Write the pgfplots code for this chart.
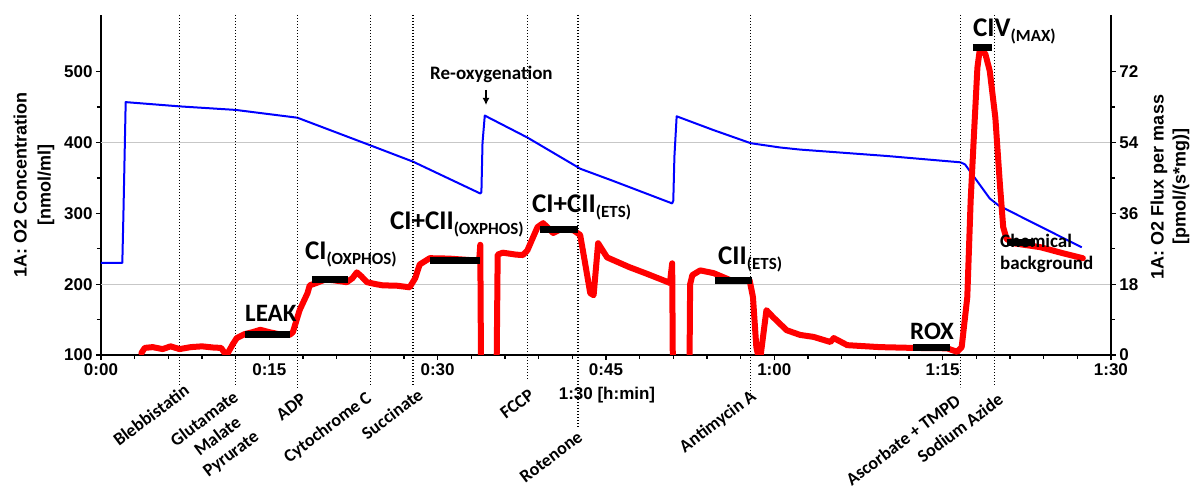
\documentclass[border=0pt]{standalone}
\usepackage{fontspec}
\setmainfont{Liberation Sans}
\newfontfamily\calib{Carlito}
\usepackage{pgfplots}
\pgfplotsset{compat=1.18}
\usetikzlibrary{arrows.meta}
\newcommand{\lab}[2]{{\fontsize{27}{27}\selectfont #1}{\fontsize{17}{17}\selectfont\raisebox{-5pt}{#2}}}
\begin{document}
\begin{tikzpicture}
\useasboundingbox (-101pt,-137pt) rectangle (1095pt,355pt);
\begin{axis}[
 width=1010pt, height=340pt, scale only axis,
 xmin=0, xmax=90, ymin=100, ymax=580,
 axis x line*=bottom, axis y line*=left,
 axis line style={-, line width=1.6pt},
 xtick={0,15,...,90}, xticklabels={0:00,0:15,0:30,0:45,1:00,1:15,1:30},
 minor x tick num=4,
 ytick={100,200,...,500}, minor y tick num=1,
 tick align=outside, major tick length=5pt, minor tick length=4pt,
 tick style={line width=1.2pt, black},
 tick label style={font=\fontsize{17}{17}\selectfont\bfseries},
 /pgf/number format/assume math mode=true,
 extra y ticks={200,400}, extra y tick labels={},
 extra y tick style={grid=major, major tick length=0pt, major grid style={black!22, line width=1pt}},
 clip=false,
]
\addplot[blue, line width=2pt, line join=round] coordinates {
(0,230) (1.9,230) (2.0,300) (2.2,457) (7.0,451) (12.0,446) (17.5,435) (21,414)
(24.0,396) (27.8,373) (33.8,328) (33.9,330) (34.0,400) (34.2,438)
(38.0,407) (42.5,365) (42.7,363) (45.6,346) (50.9,314) (51.0,318) (51.1,380) (51.3,437)
(54.5,418) (57.9,399) (60.5,393) (62.3,390) (70,381) (76.6,372) (77.0,369) (79.2,321)
(80.0,311) (87.4,252)
};
\tikzset{evt/.style={black, line width=1.2pt, dash pattern=on 1.2pt off 1.8pt}}
\draw[evt] (axis cs:7.0,580) -- (axis cs:7.0,57.6);
\draw[evt] (axis cs:12.0,580) -- (axis cs:12.0,57.6);
\draw[evt] (axis cs:17.5,580) -- (axis cs:17.5,53.4);
\draw[evt] (axis cs:24.0,580) -- (axis cs:24.0,57.6);
\draw[evt] (axis cs:27.8,580) -- (axis cs:27.8,57.6);
\draw[evt] (axis cs:38.0,580) -- (axis cs:38.0,64.7);
\draw[evt] (axis cs:42.5,580) -- (axis cs:42.5,-1.6);
\draw[evt] (axis cs:57.9,580) -- (axis cs:57.9,46.3);
\draw[evt] (axis cs:76.6,580) -- (axis cs:76.6,54.8);
\draw[evt] (axis cs:79.6,580) -- (axis cs:79.6,57.6);
\end{axis}
\begin{axis}[
 width=1010pt, height=340pt, scale only axis,
 xmin=0, xmax=90, ymin=0, ymax=86.4,
 axis x line=none, axis y line*=right,
 axis line style={-, line width=1.6pt},
 ytick={0,18,...,72}, minor y tick num=1,
 tick align=outside, major tick length=5pt, minor tick length=4pt,
 tick style={line width=1.2pt, black},
 tick label style={font=\fontsize{17}{17}\selectfont\bfseries},
 /pgf/number format/assume math mode=true,
 clip mode=individual,
]
\addplot[red, line width=6pt, line join=round, line cap=round] coordinates {
(3.6,0.5) (3.9,1.8) (4.6,2.0) (5.5,1.5) (6.2,2.2) (7.0,1.5) (8.0,2.0) (9.0,2.2)
(10.0,1.9) (10.7,1.8) (11.0,0.6) (11.2,0.0) (11.8,3.0) (12.1,4.3) (12.8,5.3) (13.5,5.8)
(14.2,6.4) (15.0,5.8) (16.0,5.2) (16.8,5.1) (17.1,5.8) (17.7,11.4) (18.4,15.7) (18.6,17.7)
(19.2,18.3) (20.0,19.2) (20.7,19.0) (21.9,18.5) (22.4,19.5) (22.8,21.0) (23.2,20.0) (23.7,18.5)
(24.5,18.0) (25.1,17.7) (26.4,17.6) (27.5,17.2) (28.0,19.5) (28.4,23.0) (29.3,24.6) (31.0,24.5)
(33.5,24.0) (33.7,24.0) (33.8,28.0) (33.9,-20) (35.2,-20) (35.35,25.5) (35.8,26.0) (37.0,25.5)
(37.6,25.4) (38.0,26.6) (38.5,29.9) (38.9,32.5) (39.4,33.5) (40.3,31.0) (41.0,32.0) (42.1,31.7)
(42.7,30.5) (43.1,24.0) (43.6,15.7) (43.9,15.2) (44.3,28.4) (45.1,24.8) (47.1,22.3) (48.5,20.8)
(50.1,19.0) (50.7,18.3) (50.9,23.3) (51.0,-20) (52.4,-20) (52.5,18.0) (52.7,20.3) (53.4,21.5)
(54.6,20.8) (56.1,19.0) (57.8,19.0) (58.1,14.7) (58.4,2.0) (58.7,-2.0) (59.3,11.4) (59.9,9.6)
(61.1,6.3) (62.3,5.1) (63.5,4.6) (65.0,3.3) (65.3,4.3) (66.5,2.5) (69.4,2.0) (72.4,1.8)
(75.4,1.7) (76.3,0.8) (76.7,2.0) (77.2,14.7) (77.5,39.3) (77.8,56.3) (78.1,73.0) (78.3,77.3)
(78.8,76.6) (79.2,72.2) (79.7,60.3) (80.1,43.6) (80.4,32.5) (80.7,29.5) (81.3,28.4) (83.7,27.4)
(85.8,25.8) (87.5,24.6)
};
\addplot[black, line width=7pt] coordinates {(12.8,5.1) (16.8,5.1)};
\addplot[black, line width=7pt] coordinates {(18.8,19.3) (22.0,19.3)};
\addplot[black, line width=7pt] coordinates {(29.3,24.1) (33.8,24.1)};
\addplot[black, line width=7pt] coordinates {(39.1,31.9) (42.5,31.9)};
\addplot[black, line width=7pt] coordinates {(54.7,19.0) (58.0,19.0)};
\addplot[black, line width=7pt] coordinates {(72.4,1.8) (75.7,1.8)};
\addplot[black, line width=7pt] coordinates {(77.7,78.1) (79.4,78.1)};
\addplot[black, line width=7pt] coordinates {(80.7,28.6) (83.2,28.6)};
\end{axis}
% annotations (pt = pixel offsets from the plot origin)
\begin{scope}[every node/.style={inner sep=0pt}]
\node[anchor=base west, font=\calib\bfseries\fontsize{25}{25}\selectfont] at (144pt,33pt) {LEAK};
\node[anchor=base west, font=\calib\bfseries\fontsize{25}{25}\selectfont] at (809pt,15pt) {ROX};
\node[anchor=base west, font=\calib\bfseries] at (204pt,95pt) {\lab{CI}{(OXPHOS)}};
\node[anchor=base west, font=\calib\bfseries] at (289pt,125pt) {\lab{CI+CII}{(OXPHOS)}};
\node[anchor=base west, font=\calib\bfseries] at (431pt,142pt) {\lab{CI+CII}{(ETS)}};
\node[anchor=base west, font=\calib\bfseries] at (617pt,90pt) {\lab{CII}{(ETS)}};
\node[anchor=base west, font=\calib\bfseries] at (872pt,318pt) {\lab{CIV}{(MAX)}};
\node[anchor=base west, font=\calib\bfseries\fontsize{19}{19}\selectfont] at (329pt,275pt) {Re-oxygenation};
\draw[-{Latex[length=7pt,width=7pt]}, line width=2pt] (385pt,265pt) -- (385pt,250pt);
\node[anchor=base west, align=left, font=\calib\bfseries\fontsize{19}{22}\selectfont] at (899pt,85pt) {Chemical\\background};
\begin{scope}[every node/.append style={rotate=37, font=\calib\bfseries\fontsize{18}{22}\selectfont, align=center}]
\node at (50pt,-60pt) {Blebbistatin};
\node at (117pt,-82pt) {Glutamate\\Malate\\Pyrurate};
\node at (190pt,-52pt) {ADP};
\node at (227pt,-73pt) {Cytochrome C};
\node at (291pt,-59pt) {Succinate};
\node at (416pt,-49pt) {FCCP};
\node at (450pt,-102pt) {Rotenone};
\node at (617pt,-67pt) {Antimycin A};
\node at (802pt,-85pt) {Ascorbate + TMPD};
\node at (859pt,-73pt) {Sodium Azide};
\end{scope}
\node[font=\bfseries\fontsize{17}{17}\selectfont] at (506pt,-40pt) {1:30 [h:min]};
\node[rotate=90, align=center, font=\bfseries\fontsize{18}{24}\selectfont] at (-67pt,170pt) {1A: O2 Concentration\\{[nmol/ml]}};
\node[rotate=90, align=center, font=\bfseries\fontsize{18}{22}\selectfont] at (1069pt,168pt) {1A: O2 Flux per mass\\{[pmol/(s*mg)]}};
\end{scope}
\end{tikzpicture}
\end{document}
